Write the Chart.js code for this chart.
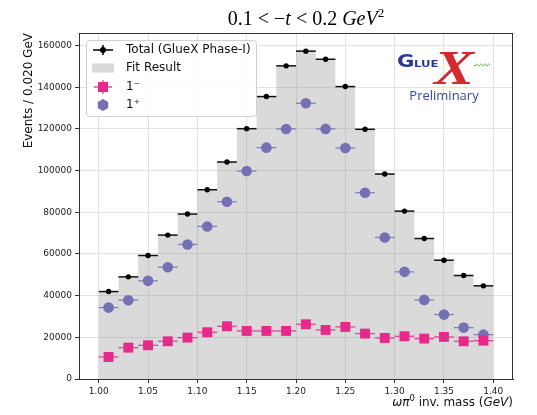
<!DOCTYPE html>
<html>
<head>
<meta charset="utf-8">
<script src="https://cdn.jsdelivr.net/npm/chart.js@4.4.1/dist/chart.umd.min.js"></script>
<style>
  body { margin: 0; background: #fff; }
  canvas { display: block; }
</style>
</head>
<body>
<canvas id="chart" width="537" height="415"></canvas>
<script>
// bin centres of the omega pi0 mass histogram (GeV), bin width 0.020
const binWidth = 0.02;
const massBins = [1.01, 1.03, 1.05, 1.07, 1.09, 1.11, 1.13, 1.15, 1.17, 1.19,
                  1.21, 1.23, 1.25, 1.27, 1.29, 1.31, 1.33, 1.35, 1.37, 1.39];

const totalCounts = [41950, 49000, 59250, 69050, 79140, 90800, 104100, 120100, 135500, 150250,
                     157300, 153400, 140300, 119800, 98350, 80560, 67400, 57000, 49650, 44700];
const fitCounts = [41900, 48900, 59300, 69000, 79200, 90700, 104200, 120000, 135600, 150200,
                   157600, 153300, 140400, 119900, 98300, 80500, 67300, 57100, 49600, 44600];
const minusCounts = [10570, 15050, 16180, 18100, 19860, 22420, 25310, 23060, 23060, 23060,
                     26270, 23540, 24990, 21780, 19700, 20500, 19380, 20180, 18100, 18400];
const plusCounts = [34260, 37800, 47090, 53650, 64550, 73200, 85050, 99780, 111000, 119970,
                    132300, 120000, 110850, 89370, 67900, 51400, 37960, 30900, 24650, 21290];

const xTicks = [1.00, 1.05, 1.10, 1.15, 1.20, 1.25, 1.30, 1.35, 1.40];
const yTicks = [0, 20000, 40000, 60000, 80000, 100000, 120000, 140000, 160000];

const colTotal = '#000000';
const colMinus = '#e7298a';
const colPlus = '#7570b3';
const sans = '"DejaVu Sans", sans-serif';

function toPoints(vals) {
    return massBins.map((m, i) => ({ x: m, y: vals[i] }));
}

// histogram outline: one point on each left bin edge, plus the closing right edge
function toSteps(vals) {
    const pts = massBins.map((m, i) => ({ x: m - binWidth / 2, y: vals[i] }));
    pts.push({ x: massBins[massBins.length - 1] + binWidth / 2, y: vals[vals.length - 1] });
    return pts;
}

// draws a list of text pieces with their own fonts one after the other
function drawRich(ctx, parts, x, y, align) {
    let total = 0;
    parts.forEach(p => { ctx.font = p.font; total += ctx.measureText(p.text).width; });
    let cx = align === 'center' ? x - total / 2 : (align === 'right' ? x - total : x);
    ctx.textAlign = 'left';
    parts.forEach(p => {
        ctx.font = p.font;
        ctx.fillText(p.text, cx, y + (p.dy || 0));
        cx += ctx.measureText(p.text).width;
    });
}

function hexagon(ctx, x, y, r) {
    ctx.beginPath();
    for (let k = 0; k < 6; k++) {
        const a = Math.PI / 6 + k * Math.PI / 3;
        const px = x + r * Math.cos(a), py = y + r * Math.sin(a);
        if (k === 0) ctx.moveTo(px, py); else ctx.lineTo(px, py);
    }
    ctx.closePath();
    ctx.fill();
}

const errorBars = {
    id: 'errorBars',
    afterDatasetDraw(chart, args) {
        if (chart.data.datasets[args.index].label !== 'Fit Result') return;
        const ctx = chart.ctx;
        const xs = chart.scales.x, ys = chart.scales.y;
        const sets = [
            { vals: plusCounts, color: 'rgba(117,112,179,0.85)', w: 1.3 },
            { vals: minusCounts, color: 'rgba(231,41,138,0.85)', w: 1.3 },
            { vals: totalCounts, color: '#111', w: 1.5 }
        ];
        ctx.save();
        sets.forEach(s => {
            ctx.strokeStyle = s.color;
            ctx.lineWidth = s.w;
            massBins.forEach((m, i) => {
                const py = ys.getPixelForValue(s.vals[i]);
                ctx.beginPath();
                ctx.moveTo(xs.getPixelForValue(m - binWidth / 2), py);
                ctx.lineTo(xs.getPixelForValue(m + binWidth / 2), py);
                ctx.stroke();
            });
        });
        ctx.restore();
    }
};

const decor = {
    id: 'decor',
    afterDraw(chart) {
        const ctx = chart.ctx;
        const a = chart.chartArea;
        ctx.save();

        // frame on all four sides
        ctx.strokeStyle = '#333';
        ctx.lineWidth = 1;
        ctx.strokeRect(a.left + 0.5, a.top + 0.5, a.right - a.left - 1, a.bottom - a.top);

        // title
        ctx.fillStyle = '#000';
        ctx.textBaseline = 'alphabetic';
        const serif = '"Liberation Serif", "DejaVu Serif", serif';
        drawRich(ctx, [
            { text: '0.1 < \u2212', font: '20px ' + serif },
            { text: 't', font: 'italic 20px ' + serif },
            { text: ' < 0.2 ', font: '20px ' + serif },
            { text: 'GeV', font: 'italic 20px ' + serif },
            { text: '2', font: '13px ' + serif, dy: -8 }
        ], (a.left + a.right) / 2 + 10, 25, 'center');

        // axis labels
        ctx.fillStyle = '#111';
        ctx.textBaseline = 'middle';
        ctx.save();
        ctx.translate(29, a.top);
        ctx.rotate(-Math.PI / 2);
        ctx.font = '12px ' + sans;
        ctx.textAlign = 'right';
        ctx.fillText('Events / 0.020 GeV', 0, 0);
        ctx.restore();

        drawRich(ctx, [
            { text: '\u03c9\u03c0', font: 'italic 12px ' + sans },
            { text: '0', font: '8.5px ' + sans, dy: -4 },
            { text: ' inv. mass (', font: '12px ' + sans },
            { text: 'GeV', font: 'italic 12px ' + sans },
            { text: ')', font: '12px ' + sans }
        ], a.right, 403, 'right');

        // legend
        ctx.beginPath();
        ctx.roundRect(86.5, 40.5, 170, 76, 3);
        ctx.fillStyle = 'rgba(255,255,255,0.85)';
        ctx.fill();
        ctx.strokeStyle = '#d0d0d0';
        ctx.lineWidth = 1;
        ctx.stroke();

        const mx = 103;
        const rows = [50, 68, 87, 105];
        // Total: dot with error cross
        ctx.strokeStyle = '#000';
        ctx.lineWidth = 1.5;
        ctx.beginPath();
        ctx.moveTo(mx - 10, rows[0]); ctx.lineTo(mx + 10, rows[0]);
        ctx.moveTo(mx, rows[0] - 5); ctx.lineTo(mx, rows[0] + 5);
        ctx.stroke();
        ctx.fillStyle = '#000';
        ctx.beginPath(); ctx.arc(mx, rows[0], 3, 0, Math.PI * 2); ctx.fill();
        // Fit Result patch
        ctx.fillStyle = '#d9d9d9';
        ctx.fillRect(mx - 11, rows[1] - 4.5, 22, 9);
        // 1-
        ctx.strokeStyle = 'rgba(231,41,138,0.85)';
        ctx.lineWidth = 1.3;
        ctx.beginPath();
        ctx.moveTo(mx - 9, rows[2]); ctx.lineTo(mx + 9, rows[2]);
        ctx.moveTo(mx, rows[2] - 7); ctx.lineTo(mx, rows[2] + 7);
        ctx.stroke();
        ctx.fillStyle = colMinus;
        ctx.fillRect(mx - 5, rows[2] - 5, 10, 10);
        // 1+
        ctx.fillStyle = colPlus;
        hexagon(ctx, mx, rows[3], 6);

        ctx.fillStyle = '#111';
        ctx.font = '12px ' + sans;
        ctx.textAlign = 'left';
        ctx.textBaseline = 'middle';
        ctx.fillText('Total (GlueX Phase-I)', 126, rows[0]);
        ctx.fillText('Fit Result', 126, rows[1]);
        ctx.fillText('1\u207b', 126, rows[2]);
        ctx.fillText('1\u207a', 126, rows[3]);

        // GlueX logo
        ctx.textBaseline = 'alphabetic';
        ctx.fillStyle = '#2c3892';
        ctx.font = 'bold 17px ' + sans;
        ctx.save();
        ctx.translate(397, 67);
        ctx.scale(1.25, 1);
        ctx.fillText('G', 0, 0);
        ctx.restore();
        ctx.save();
        ctx.translate(414, 67);
        ctx.scale(1.3, 1);
        ctx.font = 'bold 9px ' + sans;
        ctx.fillText('LUE', 0, 0);
        ctx.restore();
        ctx.fillStyle = '#d42a2e';
        ctx.save();
        ctx.translate(434, 84);
        ctx.scale(1.25, 1);
        ctx.font = 'bold italic 48px ' + serif;
        ctx.fillText('X', 0, 0);
        ctx.restore();
        ctx.strokeStyle = '#5aa843';
        ctx.lineWidth = 0.8;
        ctx.beginPath();
        for (let t = 0; t <= 16; t += 0.5) {
            const px = 474 + t, py = 65 + 1.3 * Math.sin(t * 1.6);
            if (t === 0) ctx.moveTo(px, py); else ctx.lineTo(px, py);
        }
        ctx.stroke();
        ctx.fillStyle = '#3a47a0';
        ctx.font = '13px "Open Sans", sans-serif';
        ctx.textAlign = 'center';
        ctx.textBaseline = 'middle';
        ctx.fillText('Preliminary', 444, 96);

        ctx.restore();
    }
};

const tickFont = { family: sans, size: 9 };

new Chart(document.getElementById('chart').getContext('2d'), {
    type: 'scatter',
    data: {
        datasets: [
            {
                label: 'Total (GlueX Phase-I)',
                data: toPoints(totalCounts),
                backgroundColor: colTotal,
                borderColor: colTotal,
                pointRadius: 2.7,
                pointBorderWidth: 0
            },
            {
                label: '1\u207b',
                data: toPoints(minusCounts),
                pointStyle: 'rect',
                backgroundColor: colMinus,
                borderColor: colMinus,
                pointRadius: 7,
                pointBorderWidth: 0
            },
            {
                label: '1\u207a',
                data: toPoints(plusCounts),
                backgroundColor: colPlus,
                borderColor: colPlus,
                pointRadius: 5.3,
                pointBorderWidth: 0
            },
            {
                type: 'line',
                label: 'Fit Result',
                data: toSteps(fitCounts),
                stepped: 'before',
                showLine: true,
                fill: 'origin',
                backgroundColor: 'rgba(150,150,150,0.35)',
                borderColor: 'rgba(0,0,0,0)',
                borderWidth: 0,
                pointRadius: 0
            }
        ]
    },
    options: {
        responsive: false,
        animation: false,
        devicePixelRatio: 1,
        layout: { padding: { top: 33, right: 24, left: 0, bottom: 0 } },
        plugins: {
            legend: { display: false },
            title: { display: false },
            tooltip: { enabled: false }
        },
        scales: {
            x: {
                type: 'linear',
                min: 0.98,
                max: 1.42,
                offset: false,
                grid: { color: '#e2e2e2', tickColor: '#333', tickLength: 4, offset: false },
                border: { color: '#333', width: 1 },
                ticks: {
                    font: tickFont, color: '#222', padding: 3, maxRotation: 0,
                    callback: v => v.toFixed(2)
                },
                afterBuildTicks: s => { s.ticks = xTicks.map(v => ({ value: v })); },
                afterFit: s => { s.height = 36; }
            },
            y: {
                min: 0,
                max: 166000,
                grid: { color: '#e2e2e2', tickColor: '#333', tickLength: 4 },
                border: { color: '#333', width: 1 },
                ticks: { font: tickFont, color: '#222', padding: 3, callback: v => String(v) },
                afterBuildTicks: s => { s.ticks = yTicks.map(v => ({ value: v })); },
                afterFit: s => { s.width = 79; }
            }
        }
    },
    plugins: [errorBars, decor]
});
</script>
</body>
</html>
